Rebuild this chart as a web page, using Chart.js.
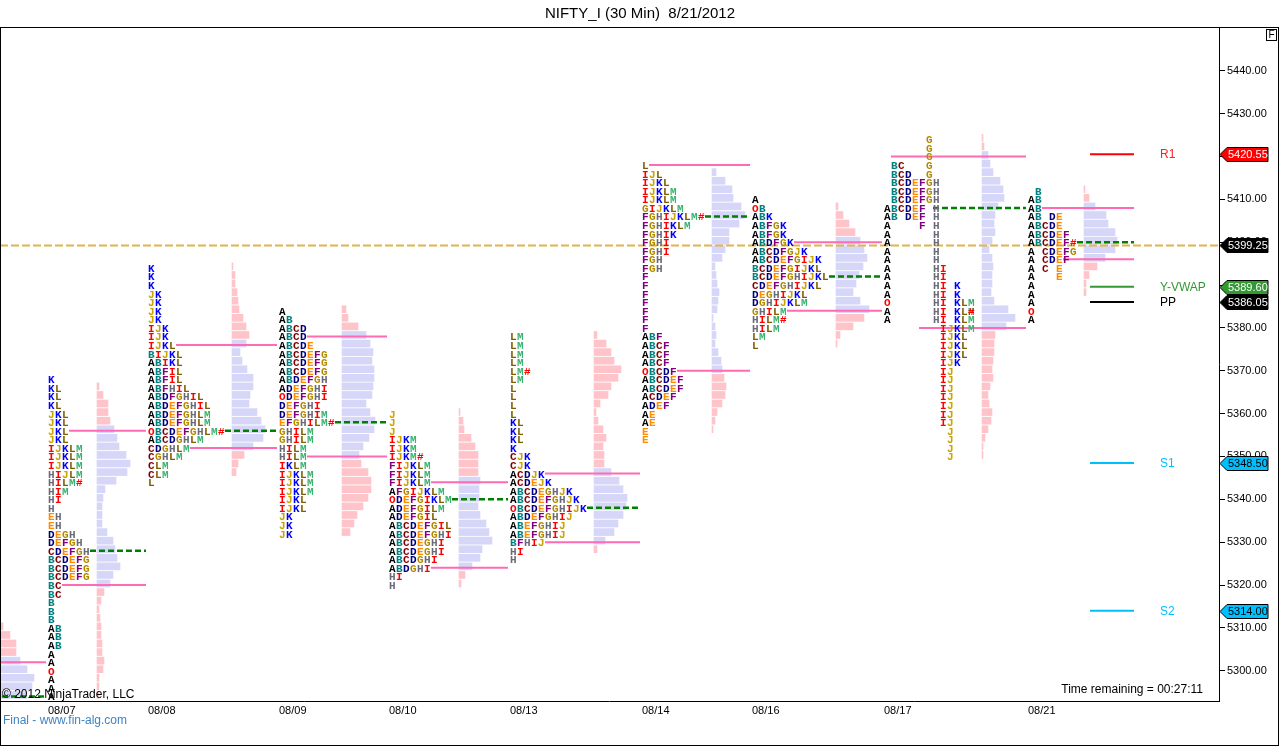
<!DOCTYPE html>
<html>
<head>
<meta charset="utf-8">
<script src="https://cdn.jsdelivr.net/npm/chart.js@4.4.0/dist/chart.umd.min.js"></script>
<style>
  html, body { margin: 0; padding: 0; background: #fff; }
</style>
</head>
<body>
<canvas id="myChart" width="1280" height="747"></canvas>
<script>
// ---- data ----
const days     = ['08/06', '08/07', '08/08', '08/09', '08/10', '08/13', '08/14', '08/16', '08/17', '08/21'];
const dayX     = [-7, 48, 148, 279, 389, 510, 642, 752, 884, 1028];   // slot of each session on the x axis
const topPrice = [5310, 5368, 5394, 5384, 5360, 5378, 5418, 5410, 5424, 5412];
const vah      = [5302, 5356, 5376, 5378, 5344, 5346, 5418, 5400, 5420, 5408];
const poc      = [5294, 5328, 5356, 5358, 5340, 5338, 5406, 5392, 5408, 5400];
const val      = [5288, 5320, 5352, 5350, 5324, 5330, 5370, 5384, 5380, 5396];

const tpo0806 = [];
const tpo0807 = ['K','KL','KL','KL','JKL','JKL','JKL','JKL','IJKLM','IJKLM','IJKLM','HIJLM','HILM#','HIM','HI','H','EH','EH','DEGH','DEFGH','CDEFGH','BCDEFG','BCDEFG','BCDEFG','BC','BC','B','B','B','AB','AB','AB','A','A','O','A','A','A','A'];
const tpo0808 = ['K','K','K','JK','JK','JK','JK','IJK','IJK','IJKL','BIJKL','ABIKL','ABFIL','ABFIL','ABFHIL','ABDFGHIL','ABDEFGHIL','ABDEFGHLM','ABDEFGHLM','OBCDEFGHLM#','ABCDGHLM','CDGHLM','CGHLM','CLM','CLM','L'];
const tpo0809 = ['A','AB','ABCD','ABCD','ABCDE','ABCDEFG','ABCDEFG','ABCDEFG','ABDEFGH','ADEFGHI','ODEFGHI','DEFGHI','DEFGHIM','EFGHILM#','GHILM','GHILM','HILM','HILM','IKLM','IJKLM','IJKLM','IJKLM','IJKL','IJKL','JK','JK','JK'];
const tpo0810 = ['J','J','J','IJKM','IJKM','IJKM#','FIJKLM','FIJKLM','FIJKLM','AFGIJKLM','ODEFGIKLM','ADEFGILM','ADEFGIL','ABCDEFGIL','ABCDEFGHI','ABCDEGHI','ABCDEGHI','ABCDGHI','ABDGHI','HI','H'];
const tpo0813 = ['LM','LM','LM','LM','LM#','LM','L','L','L','L','KL','KL','KL','K','CJK','CJK','ACDJK','ACDEJK','ABCDEGHJK','ABCDEFGHJK','OBCDEFGHIJK','ABDEFGHIJ','ABEFGHIJ','ABEFGHIJ','BFHIJ','HI','H'];
const tpo0814 = ['L','IJL','IJKL','IJKLM','IJKLM','GIJKLM','FGHIJKLM#','FGHIKLM','FGHIK','FGHI','FGHI','FGH','FGH','F','F','F','F','F','F','F','ABF','ABCF','ABCF','ABCF','OBCDF','ABCDEF','ABCDEF','ACDEF','ADEF','AE','AE','E','E'];
const tpo0816 = ['A','OB','ABK','ABFGK','ABFGK','ABDFGK','ABCDFGJK','ABCDEFGIJK','BCDEFGIJKL','BCDEFGHIJKL','CDEFGHIJKL','DEGHIJKL','DGHIJKLM','GHILM','HILM#','HILM','LM','L'];
const tpo0817 = ['      G','      G','      G',' BC   G',' BCD  G',' BCDEFGH',' BCDEFGH',' BCDEFGH','ABCDEF H','AB DEF H','A    F H',
                 'A      H','A      H','A      H','A      H','A      HI','A      HI','A      HI K','A      HI K',
                 'O      HI KLM','A      HI KL*','A      HI KLM','        IJKLM','        IJKL','        IJKL','        IJKL','        IJK',
                 '        IJ','        IJ','        IJ','        IJ','        IJ','        IJ','        IJ',
                 '         J','         J','         J','         J'];
const tpo0821 = [' B','AB','AB','AB DE','ABCDE','ABCDEF','ABCDEF#','A CDEFG','A CDEF','A C E','A   E','A','A','A','O','A'];

const vol0806 = [3,10,16,16,20,27,34,32,27];
const vol0807 = [0,2,6,11,11,13,17,20,22,29,33,30,19,8,6,5,5,5,10,16,18,20,23,16,13,7,4,2,3,4,4,5,5,7,6,2,2,2];
const vol0808 = [1,3,3,5,6,7,11,14,17,14,8,10,15,21,21,18,17,25,29,33,31,21,12,6,4,0];
const vol0809 = [4,6,16,24,28,31,30,32,32,31,30,24,28,33,32,27,21,17,19,26,29,29,26,21,15,12,8];
const vol0810 = [1,4,5,12,16,19,19,19,21,20,20,19,21,27,30,33,23,21,13,6,2];
const vol0813 = [3,12,17,20,27,24,17,14,6,2,4,9,12,9,10,10,17,25,29,33,32,29,24,20,11,3,0];
const vol0814 = [0,4,13,20,21,29,33,27,17,17,13,10,3,4,5,7,6,5,1,3,4,3,6,9,10,12,14,13,10,5,3,1,0];
const vol0816 = [0,2,7,13,19,24,28,31,27,23,20,17,24,33,28,17,4,1];
const vol0817 = [1,2,6,8,11,18,21,22,16,13,12,13,10,7,10,11,10,10,9,12,26,33,24,13,12,12,11,10,11,8,6,7,10,9,6,3,1,1];
const vol0821 = [1,5,11,22,24,31,33,31,21,13,5,2,2,0,0,0];

const tpoRows = [tpo0806, tpo0807, tpo0808, tpo0809, tpo0810, tpo0813, tpo0814, tpo0816, tpo0817, tpo0821];
const volRows = [vol0806, vol0807, vol0808, vol0809, vol0810, vol0813, vol0814, vol0816, vol0817, vol0821];

const pivotNames  = ['R1', 'Y-VWAP', 'PP', 'S1', 'S2'];
const pivotValues = [5420.55, 5389.60, 5386.05, 5348.50, 5314.00];
const lastPrice   = 5399.25;
const yTicks      = [5300, 5310, 5320, 5330, 5340, 5350, 5360, 5370, 5380, 5390, 5400, 5410, 5420, 5430, 5440];

// ---- styles ----
const COL = 7;            // width of one letter column
const STEP = 2;           // price step of one profile row
const barShift = 0.35;    // histogram sits a touch above the letter row
const lastEdge = 1136;
const pivotFrom = 1090, pivotTo = 1134, pivotLabelX = 1160;
const pivotColors = ['#ff0000', '#339933', '#000000', '#00bfff', '#00bfff'];
const pivotText   = ['#ff2020', '#339933', '#000000', '#00bfff', '#00bfff'];
const tagFill     = ['#ff0000', '#339933', '#000000', '#00bfff', '#00bfff'];
const tagInk      = ['#ffffff', '#ffffff', '#ffffff', '#000000', '#000000'];
const pinkBar = '#ffc4ca', lavBar = '#d6d6f8', vaLine = '#ff6ab4', pocLine = '#008000', lastLine = '#e4b44c';
const tpoColor = {A:'#000000', B:'#008080', C:'#800000', D:'#000080', E:'#ff8c00', F:'#800080', G:'#b38a00',
                  H:'#6a6a78', I:'#ff0000', J:'#cca300', K:'#0000ff', L:'#7f5f00', M:'#3cb371', O:'#ff0000', '#':'#ff0000'};
const sans = 'Liberation Sans, Arial, sans-serif';

// ---- build datasets ----
let letterCount = (row) => row.replace(/ /g, '').length;
let rowAt = (d, price) => tpoRows[d][(topPrice[d] - price) / STEP] || '';

let barData = [];
tpoRows.forEach((rows, d) => {
    let maxLen = rows.reduce((m, r) => Math.max(m, r.length), 0);
    let hx = dayX[d] + (maxLen + 1) * COL;
    volRows[d].forEach((v, i) => {
        if (!v) return;
        let price = topPrice[d] - STEP * i;
        barData.push({x: [hx, hx + v], y: price + barShift, va: price <= vah[d] && price >= val[d]});
    });
});

let datasets = [{
    type: 'bar',
    indexAxis: 'y',
    data: barData,
    backgroundColor: (c) => (c.raw && c.raw.va) ? lavBar : pinkBar,
    borderWidth: 0,
    barThickness: 7,
    grouped: false,
    order: 10
}];

let hline = (x1, x2, y, color, width, dash, order) => ({
    type: 'line',
    data: [{x: x1, y: y}, {x: x2, y: y}],
    borderColor: color,
    borderWidth: width,
    borderDash: dash,
    pointRadius: 0,
    fill: false,
    order: order
});

tpoRows.forEach((rows, d) => {
    let end = (d + 1 < dayX.length ? dayX[d + 1] : lastEdge) - 2;
    [vah[d], val[d]].forEach(p => {
        datasets.push(hline(dayX[d] + letterCount(rowAt(d, p)) * COL, end, p, vaLine, 2, [], 5));
    });
    datasets.push(hline(dayX[d] + letterCount(rowAt(d, poc[d])) * COL, end, poc[d], pocLine, 2.5, [6, 3], 4));
});

pivotValues.forEach((p, i) => datasets.push(hline(pivotFrom, pivotTo, p, pivotColors[i], 2, [], 3)));
datasets.push(hline(0, 1219, lastPrice, lastLine, 2, [8, 3], 1));

// ---- plugins ----
const tpoLetters = {
    id: 'tpoLetters',
    afterDatasetsDraw(chart) {
        const {ctx, chartArea: a, scales: {x, y}} = chart;
        ctx.save();
        ctx.beginPath();
        ctx.rect(a.left, a.top, a.right - a.left, a.bottom - a.top);
        ctx.clip();
        ctx.font = 'bold 11px "Liberation Mono", monospace';
        ctx.textBaseline = 'middle';
        ctx.textAlign = 'left';
        tpoRows.forEach((rows, d) => rows.forEach((row, i) => {
            let py = Math.round(y.getPixelForValue(topPrice[d] - STEP * i)) + 1;
            [...row].forEach((ch, j) => {
                if (ch === ' ') return;
                let px = Math.round(x.getPixelForValue(dayX[d] + j * COL));
                let glyphs = ch === '*' ? ['M', '#'] : [ch];
                glyphs.forEach(g => {
                    ctx.fillStyle = tpoColor[g];
                    ctx.fillText(g, px, py);
                });
            });
        }));
        ctx.restore();
    }
};

const decorations = {
    id: 'decorations',
    afterDraw(chart) {
        const {ctx, chartArea: a, scales: {x, y}} = chart;
        ctx.save();

        // frame
        ctx.strokeStyle = '#000';
        ctx.lineWidth = 1;
        ctx.strokeRect(0.5, 27.5, 1278, 718);
        ctx.beginPath();
        ctx.moveTo(0, Math.round(a.bottom) + 0.5);
        ctx.lineTo(a.right, Math.round(a.bottom) + 0.5);
        ctx.stroke();

        // "F" box
        ctx.fillStyle = '#fff';
        ctx.fillRect(1266.5, 29.5, 10, 11);
        ctx.strokeRect(1266.5, 29.5, 10, 11);
        ctx.fillStyle = '#000';
        ctx.font = '10px ' + sans;
        ctx.textAlign = 'center';
        ctx.textBaseline = 'middle';
        ctx.fillText('F', 1271.5, 35.5);

        // pivot labels
        ctx.font = '12px ' + sans;
        ctx.textAlign = 'left';
        pivotValues.forEach((p, i) => {
            ctx.fillStyle = pivotText[i];
            ctx.fillText(pivotNames[i], pivotLabelX, y.getPixelForValue(p) + 1);
        });

        // price tags on the axis
        let tag = (p, fill, ink) => {
            let ty = Math.round(y.getPixelForValue(p)) + 0.5;
            let l = Math.round(a.right) + 1;
            ctx.beginPath();
            ctx.moveTo(l, ty);
            ctx.lineTo(l + 7, ty - 7);
            ctx.lineTo(1268, ty - 7);
            ctx.lineTo(1268, ty + 7);
            ctx.lineTo(l + 7, ty + 7);
            ctx.closePath();
            ctx.fillStyle = fill;
            ctx.fill();
            ctx.strokeStyle = '#000';
            ctx.stroke();
            ctx.fillStyle = ink;
            ctx.font = '11px ' + sans;
            ctx.textAlign = 'left';
            ctx.fillText(p.toFixed(2), l + 8, ty + 0.5);
        };
        pivotValues.forEach((p, i) => tag(p, tagFill[i], tagInk[i]));
        tag(lastPrice, '#000000', '#ffffff');

        // texts
        ctx.font = '12px ' + sans;
        ctx.fillStyle = '#000';
        ctx.textAlign = 'left';
        ctx.fillText('\u00a9 2012 NinjaTrader, LLC', 2, 695);
        ctx.textAlign = 'right';
        ctx.fillText('Time remaining = 00:27:11', 1203, 690);
        ctx.textAlign = 'left';
        ctx.fillStyle = '#3c84c6';
        ctx.fillText('Final - www.fin-alg.com', 3, 721);
        ctx.restore();
    }
};

new Chart('myChart', {
    type: 'line',
    data: {datasets: datasets},
    options: {
        responsive: false,
        animation: false,
        devicePixelRatio: 1,
        layout: {padding: 0},
        plugins: {
            legend: {display: false},
            tooltip: {enabled: false},
            title: {
                display: true,
                text: 'NIFTY_I (30 Min)  8/21/2012',
                color: '#000',
                font: {family: sans, size: 15, weight: 'normal'},
                padding: {top: 5, bottom: 4}
            }
        },
        scales: {
            x: {
                type: 'linear',
                min: 0,
                max: 1219,
                offset: false,
                grid: {display: false, drawTicks: false, offset: false},
                border: {display: false},
                afterBuildTicks: (s) => { s.ticks = dayX.slice(1).map(v => ({value: v})); },
                afterFit: (s) => { s.height = 46; },
                ticks: {
                    align: 'start',
                    autoSkip: false,
                    maxRotation: 0,
                    padding: 3,
                    color: '#000',
                    font: {family: sans, size: 11},
                    callback: (v, i) => days[i + 1]
                }
            },
            y: {
                type: 'linear',
                position: 'right',
                min: 5292.93,
                max: 5450.22,
                offset: false,
                afterBuildTicks: (s) => { s.ticks = yTicks.map(v => ({value: v})); },
                afterFit: (s) => { s.width = 61; },
                grid: {drawOnChartArea: false, drawTicks: true, tickLength: 6, color: '#000', offset: false},
                border: {display: true, color: '#000'},
                ticks: {
                    padding: 2,
                    color: '#000',
                    font: {family: sans, size: 11},
                    callback: (v) => Number(v).toFixed(2)
                }
            }
        }
    },
    plugins: [tpoLetters, decorations]
});
</script>
</body>
</html>
